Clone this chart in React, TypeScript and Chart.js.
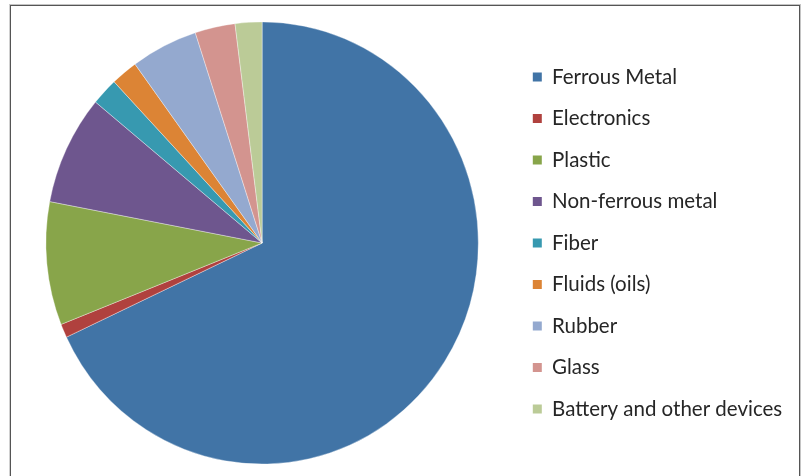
import React, { useEffect, useRef } from "react";
import { Chart, registerables } from "chart.js";

Chart.register(...registerables);

const categories = [
  "Ferrous Metal",
  "Electronics",
  "Plastic",
  "Non-ferrous metal",
  "Fiber",
  "Fluids (oils)",
  "Rubber",
  "Glass",
  "Battery and other devices",
];
const shares = [68, 1, 9, 8, 2, 2, 5, 3, 2];
const sliceColors = [
  "#4174A6",
  "#B0413E",
  "#88A54A",
  "#6E568E",
  "#3799B0",
  "#DC8435",
  "#94A9CF",
  "#D3948F",
  "#BBCB97",
];

// The original pie is slightly taller than wide.
const squeezeX = 216.7 / 221.6;

const ellipsePlugin = {
  id: "ellipse",
  beforeDatasetsDraw(chart: any) {
    const { ctx, chartArea } = chart;
    const cx = (chartArea.left + chartArea.right) / 2;
    ctx.save();
    ctx.translate(cx, 0);
    ctx.scale(squeezeX, 1);
    ctx.translate(-cx, 0);
  },
  afterDatasetsDraw(chart: any) {
    chart.ctx.restore();
  },
};

export default function App() {
  const ref = useRef<HTMLCanvasElement | null>(null);
  useEffect(() => {
    if (!ref.current) return;
    const chart = new Chart(ref.current, {
      type: "pie",
      data: {
        labels: categories,
        datasets: [
          {
            data: shares,
            backgroundColor: sliceColors,
            borderColor: "rgba(255,255,255,0.45)",
            borderWidth: 0.8,
          },
        ],
      },
      plugins: [ellipsePlugin],
      options: {
        responsive: false,
        animation: false,
        layout: { padding: { top: 16.5, bottom: 11.5, left: 2.4, right: 9.75 } },
        plugins: {
          tooltip: { enabled: false },
          legend: {
            position: "right",
            labels: {
              boxWidth: 9,
              boxHeight: 9,
              padding: 21,
              color: "#262626",
              font: { family: "Lato", size: 20.5 },
              generateLabels: (c: any) =>
                categories.map((name, i) => ({
                  text: name,
                  fillStyle: sliceColors[i],
                  strokeStyle: sliceColors[i],
                  lineWidth: 0,
                  hidden: false,
                  index: i,
                  fontColor: "#262626",
                })),
            },
          },
        },
      },
    });
    return () => chart.destroy();
  }, []);
  return (
    <div
      style={{
        position: "fixed",
        left: 0,
        top: 0,
        width: 804,
        height: 476,
        overflow: "hidden",
        background: "#fff",
      }}
    >
      <div
        style={{
          position: "absolute",
          left: 9,
          top: 4,
          width: 792,
          height: 500,
          borderTop: "1px solid #c4c4c4",
          borderRight: "1px solid #c4c4c4",
          borderLeft: "1px solid #d0d0d0",
          boxShadow: "inset 1px 1px 0 #555, inset -1px 0 0 #555",
          boxSizing: "border-box",
        }}
      />
      <canvas
        ref={ref}
        width={792}
        height={471}
        style={{ position: "absolute", left: 10, top: 5 }}
      />
    </div>
  );
}
